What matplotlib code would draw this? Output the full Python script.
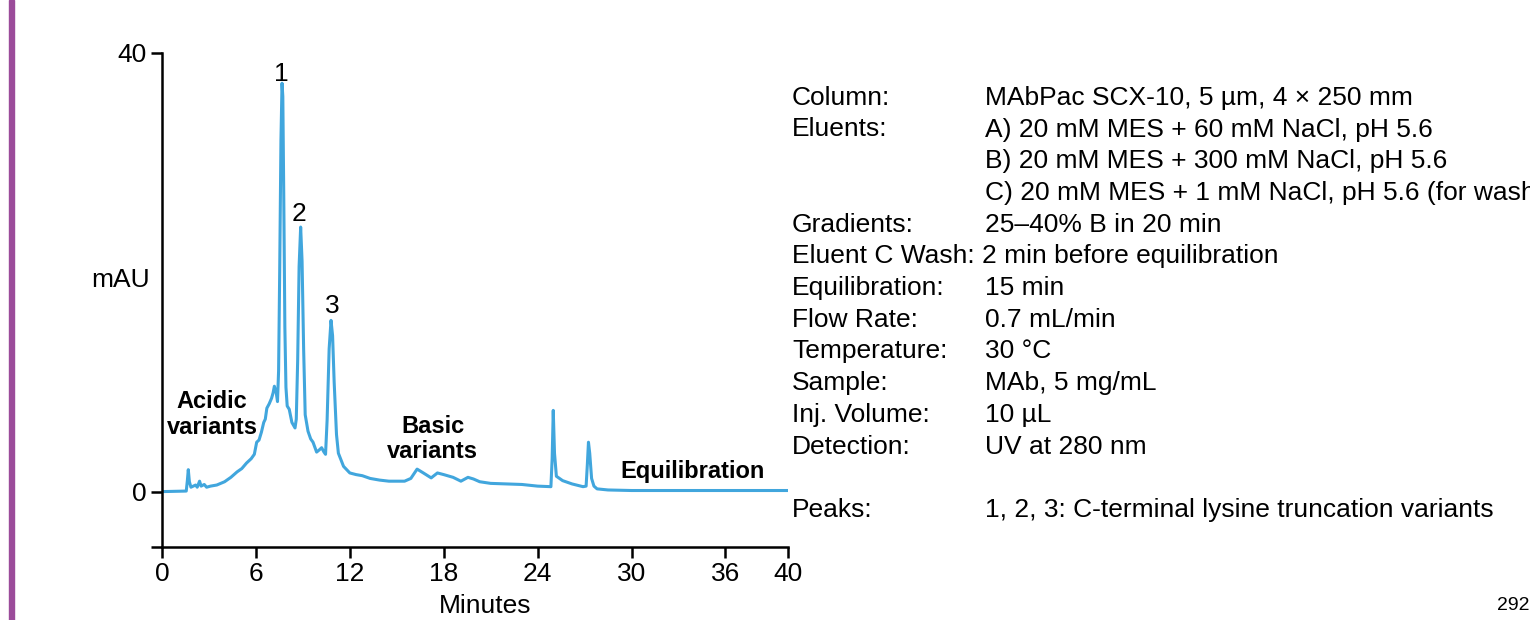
import numpy as np
import matplotlib
matplotlib.use("Agg")
import matplotlib.pyplot as plt
from matplotlib.patches import Rectangle

plt.rcParams['font.family'] = ['Liberation Sans', 'DejaVu Sans']

# chromatogram (minutes, mAU)
minutes = [0.0, 1.55, 1.62, 1.68, 1.75, 1.85, 2.0, 2.15, 2.25, 2.4, 2.5, 2.7, 2.85,
           3.1, 3.5, 4.0, 4.4, 4.8, 5.1, 5.4, 5.7, 5.9, 6.05, 6.2, 6.35, 6.5, 6.6,
           6.7, 6.85, 7.0, 7.1, 7.18, 7.3, 7.38, 7.45, 7.52, 7.6, 7.67, 7.72, 7.78,
           7.85, 7.92, 8.0, 8.13, 8.3, 8.5, 8.58, 8.67, 8.76, 8.86, 8.95, 9.05, 9.15,
           9.33, 9.5, 9.65, 9.88, 10.05, 10.2, 10.35, 10.45, 10.55, 10.68, 10.8,
           10.9, 11.0, 11.15, 11.27, 11.6, 12.0, 12.4, 12.8, 13.3, 13.9, 14.5, 15.0,
           15.5, 15.9, 16.3, 16.7, 17.2, 17.6, 18.0, 18.6, 19.1, 19.55, 19.9, 20.3,
           21.0, 22.0, 23.0, 24.0, 24.85, 24.93, 25.0, 25.08, 25.2, 25.6, 26.2,
           26.9, 27.1, 27.18, 27.25, 27.33, 27.45, 27.6, 27.8, 28.5, 30.0, 40.0]
mau = [0.0, 0.05, 1.0, 2.0, 0.9, 0.4, 0.5, 0.6, 0.4, 0.95, 0.5, 0.65, 0.4,
       0.5, 0.6, 0.9, 1.3, 1.8, 2.1, 2.6, 3.0, 3.4, 4.5, 4.7, 5.4, 6.3, 6.6,
       7.6, 8.0, 8.5, 9.0, 9.6, 9.0, 8.2, 11.0, 20.0, 32.0, 37.2, 36.0, 27.0,
       15.0, 9.5, 7.8, 7.5, 6.3, 5.8, 6.6, 12.0, 20.5, 24.1, 21.0, 13.0, 7.0,
       5.5, 4.8, 4.5, 3.6, 3.8, 4.0, 3.6, 3.4, 6.5, 13.0, 15.6,
       14.2, 10.0, 5.2, 3.5, 2.3, 1.7, 1.55, 1.45, 1.2, 1.05, 0.95, 0.95,
       0.95, 1.2, 2.05, 1.7, 1.25, 1.7, 1.55, 1.3, 0.95, 1.3, 1.15, 0.9,
       0.75, 0.7, 0.65, 0.5, 0.45, 3.0, 7.4, 3.5, 1.4, 1.0, 0.7,
       0.45, 0.5, 2.5, 4.5, 3.5, 1.2, 0.5, 0.25, 0.15, 0.1, 0.1]

x_ticks = [0, 6, 12, 18, 24, 30, 36, 40]
peak_names = ["1", "2", "3"]
peak_x = [7.6, 8.78, 10.85]
peak_y = [38.0, 25.3, 16.9]

region_names = ["Acidic\nvariants", "Basic\nvariants", "Equilibration"]
region_x = [3.2, 17.3, 33.9]
region_y = [7.0, 4.8, 1.8]

cond_labels = ["Column:", "Eluents:", "", "", "Gradients:",
               "Eluent C Wash: 2 min before equilibration", "Equilibration:",
               "Flow Rate:", "Temperature:", "Sample:", "Inj. Volume:",
               "Detection:", "", "Peaks:"]
cond_values = ["MAbPac SCX-10, 5 µm, 4 × 250 mm",
               "A) 20 mM MES + 60 mM NaCl, pH 5.6",
               "B) 20 mM MES + 300 mM NaCl, pH 5.6",
               "C) 20 mM MES + 1 mM NaCl, pH 5.6 (for wash)",
               "25–40% B in 20 min", "", "15 min", "0.7 mL/min", "30 °C",
               "MAb, 5 mg/mL", "10 µL", "UV at 280 nm", "",
               "1, 2, 3: C-terminal lysine truncation variants"]

blue = "#41a6dd"

fig = plt.figure(figsize=(15.3, 6.2), dpi=100)
ax = fig.add_axes([162/1530, 1-546.5/620, 626/1530, 494/620])

ax.plot(minutes, mau, color=blue, lw=2.2, solid_joinstyle="round")

ax.set_xlim(0, 40)
ax.set_ylim(-5, 40)
ax.spines["top"].set_visible(False)
ax.spines["right"].set_visible(False)
for s in ["left", "bottom"]:
    ax.spines[s].set_linewidth(1.8)
ax.spines["left"].set_bounds(-5, 40)
ax.spines["bottom"].set_bounds(0, 40)

ax.set_xticks(x_ticks)
ax.set_yticks([-5, 0, 40])
ax.set_yticklabels(["", "0", "40"])
ax.tick_params(axis="both", direction="out", length=8, width=1.8, labelsize=19, pad=3)

ax.set_ylabel("mAU", fontsize=19, rotation=0, ha="center", va="center")
ax.yaxis.set_label_coords(-0.067, 0.54)
ax.set_xlabel("Minutes", fontsize=19, va="center")
ax.xaxis.set_label_coords(0.516, -0.12)

for i in range(len(peak_names)):
    ax.text(peak_x[i], peak_y[i], peak_names[i], fontsize=19, ha="center", va="center")

for i in range(len(region_names)):
    ax.text(region_x[i], region_y[i], region_names[i], fontsize=17, fontweight="bold",
            ha="center", va="center", linespacing=1.15)

# run conditions on the right (last eluent line runs off the edge like the original)
y0 = 97.8
step = 31.7
for i in range(len(cond_labels)):
    yy = 1 - (y0 + i*step)/620
    if cond_labels[i]:
        fig.text(792/1530, yy, cond_labels[i], fontsize=19, va="center", ha="left")
    if cond_values[i]:
        fig.text(985/1530, yy, cond_values[i], fontsize=19, va="center", ha="left")

fig.text(1497/1530, 1-606/620, "292", fontsize=14, va="center", ha="left")

# purple bar on the left edge
fig.patches.append(Rectangle((9/1530, 0), 4.5/1530, 1, transform=fig.transFigure,
                             color="#9b4c9a", zorder=0))

fig.savefig("out.png", dpi=100)
